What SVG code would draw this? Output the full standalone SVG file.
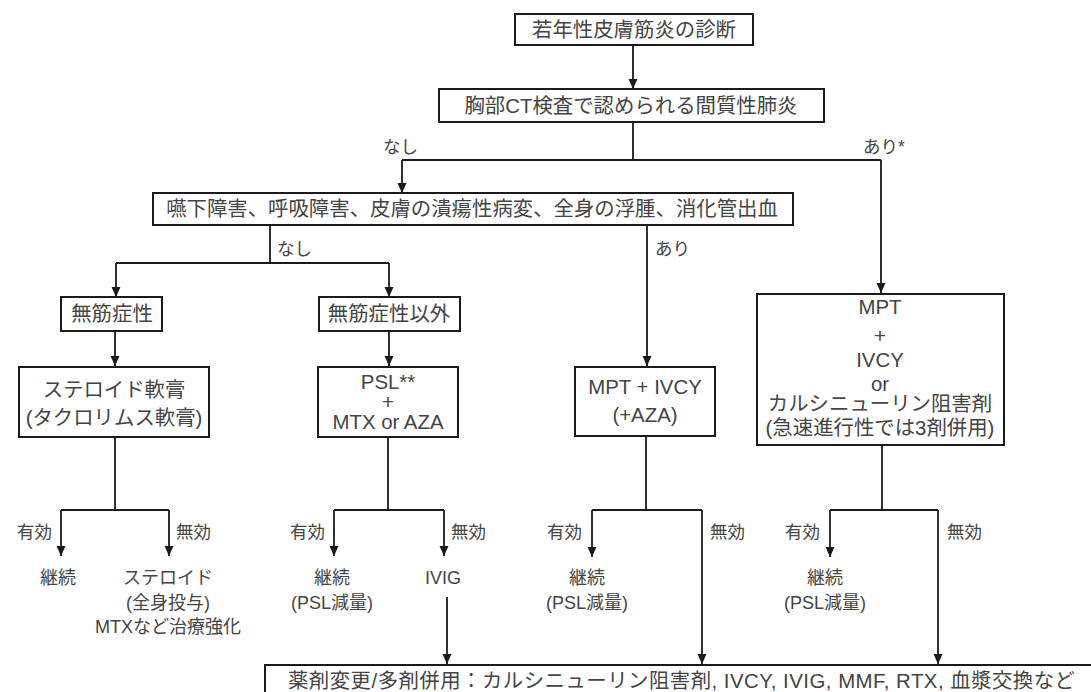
<svg xmlns="http://www.w3.org/2000/svg" width="1091" height="692" viewBox="0 0 1091 692">
<defs>
<marker id="arr" markerUnits="userSpaceOnUse" markerWidth="10" markerHeight="10" refX="10" refY="5" orient="auto">
<path d="M0,0.5 L10,5 L0,9.5 z" fill="#1a1a1a"/>
</marker>
<style>
.box{fill:#fff;stroke:#1a1a1a;stroke-width:2}
.t{font-family:"Liberation Sans","Noto Sans CJK JP",sans-serif;font-size:20.4px;fill:#444;text-anchor:middle}
.s{font-family:"Liberation Sans","Noto Sans CJK JP",sans-serif;font-size:17.5px;fill:#444}
.m{text-anchor:middle;font-size:18px}
.e{text-anchor:end}
.c{fill:none;stroke:#1a1a1a;stroke-width:1.8}
.a{marker-end:url(#arr)}
</style>
</defs>
<rect width="1091" height="692" fill="#fff"/>
<g id="connectors">
<path class="c a" d="M633,45 V89"/>
<path class="c" d="M633,122 V160 M402,160 H881"/>
<path class="c a" d="M402,160 V193"/>
<path class="c a" d="M881,160 V293"/>
<path class="c" d="M270,225 V263 M116,263 H389"/>
<path class="c a" d="M116,263 V297"/>
<path class="c a" d="M389,263 V297"/>
<path class="c a" d="M647,225 V366"/>
<path class="c a" d="M115,331 V366"/>
<path class="c a" d="M389,331 V366"/>
<path class="c" d="M115,437 V510 M61,510 H169"/>
<path class="c a" d="M61,510 V556"/>
<path class="c a" d="M169,510 V556"/>
<path class="c" d="M388,437 V510 M334,510 H444"/>
<path class="c a" d="M334,510 V556"/>
<path class="c a" d="M444,510 V556"/>
<path class="c" d="M646,436 V510 M592,510 H702"/>
<path class="c a" d="M592,510 V557"/>
<path class="c a" d="M702,510 V664"/>
<path class="c" d="M882,445 V510 M830,510 H938"/>
<path class="c a" d="M830,510 V557"/>
<path class="c a" d="M938,510 V664"/>
<path class="c a" d="M447,597 V664"/>
<text class="s" x="383" y="153">なし</text>
<text class="s" x="863" y="153">あり*</text>
<text class="s" x="277" y="255">なし</text>
<text class="s" x="655" y="255">あり</text>
<text class="s e" x="52" y="538">有効</text>
<text class="s" x="176" y="538">無効</text>
<text class="s e" x="325" y="538">有効</text>
<text class="s" x="451" y="538">無効</text>
<text class="s e" x="582" y="538">有効</text>
<text class="s" x="710" y="538">無効</text>
<text class="s e" x="820" y="538">有効</text>
<text class="s" x="947" y="538">無効</text>
</g>
<g id="n-diagnosis">
<rect class="box" x="515" y="14" width="238" height="31"/>
<text class="t" x="634" y="37">若年性皮膚筋炎の診断</text>
</g>
<g id="n-ct">
<rect class="box" x="439" y="89" width="385" height="33"/>
<text class="t" x="631" y="112.5">胸部CT検査で認められる間質性肺炎</text>
</g>
<g id="n-symptoms">
<rect class="box" x="153" y="193" width="640" height="32"/>
<text class="t" x="472" y="216">嚥下障害、呼吸障害、皮膚の潰瘍性病変、全身の浮腫、消化管出血</text>
</g>
<g id="n-amyopathic">
<rect class="box" x="61" y="297" width="101" height="34"/>
<text class="t" x="112" y="321">無筋症性</text>
</g>
<g id="n-nonamyopathic">
<rect class="box" x="319" y="297" width="141" height="34"/>
<text class="t" x="389" y="321">無筋症性以外</text>
</g>
<g id="n-ointment">
<rect class="box" x="19" y="367" width="190" height="70"/>
<text class="t" x="114" y="397">ステロイド軟膏</text>
<text class="t" x="114" y="425">(タクロリムス軟膏)</text>
</g>
<g id="n-psl">
<rect class="box" x="318" y="367" width="140" height="70"/>
<text class="t" x="388" y="389">PSL**</text>
<text class="t" x="388" y="409">+</text>
<text class="t" x="388" y="429">MTX or AZA</text>
</g>
<g id="n-mpt1">
<rect class="box" x="575" y="367" width="140" height="69"/>
<text class="t" x="645" y="394">MPT + IVCY</text>
<text class="t" x="645" y="422">(+AZA)</text>
</g>
<g id="n-mpt2">
<rect class="box" x="757" y="294" width="247" height="151"/>
<text class="t" x="880" y="314">MPT</text>
<text class="t" x="880" y="343">+</text>
<text class="t" x="880" y="367">IVCY</text>
<text class="t" x="880" y="391">or</text>
<text class="t" x="880" y="411">カルシニューリン阻害剤</text>
<text class="t" x="880" y="435">(急速進行性では3剤併用)</text>
</g>
<g id="r-continue1"><text class="s m" x="58" y="584">継続</text></g>
<g id="r-steroid">
<text class="s m" x="168" y="584">ステロイド</text>
<text class="s m" x="168" y="609">(全身投与)</text>
<text class="s m" x="168" y="633">MTXなど治療強化</text>
</g>
<g id="r-continue2">
<text class="s m" x="332" y="584">継続</text>
<text class="s m" x="332" y="609">(PSL減量)</text>
</g>
<g id="r-ivig"><text class="s m" x="443" y="584">IVIG</text></g>
<g id="r-continue3">
<text class="s m" x="587" y="584">継続</text>
<text class="s m" x="587" y="609">(PSL減量)</text>
</g>
<g id="r-continue4">
<text class="s m" x="825" y="584">継続</text>
<text class="s m" x="825" y="609">(PSL減量)</text>
</g>
<g id="n-change">
<rect class="box" x="265" y="665" width="840" height="40"/>
<text class="t" x="288" y="688" style="text-anchor:start" textLength="787" lengthAdjust="spacing">薬剤変更/多剤併用：カルシニューリン阻害剤, IVCY, IVIG, MMF, RTX, 血漿交換など</text>
</g>
</svg>
